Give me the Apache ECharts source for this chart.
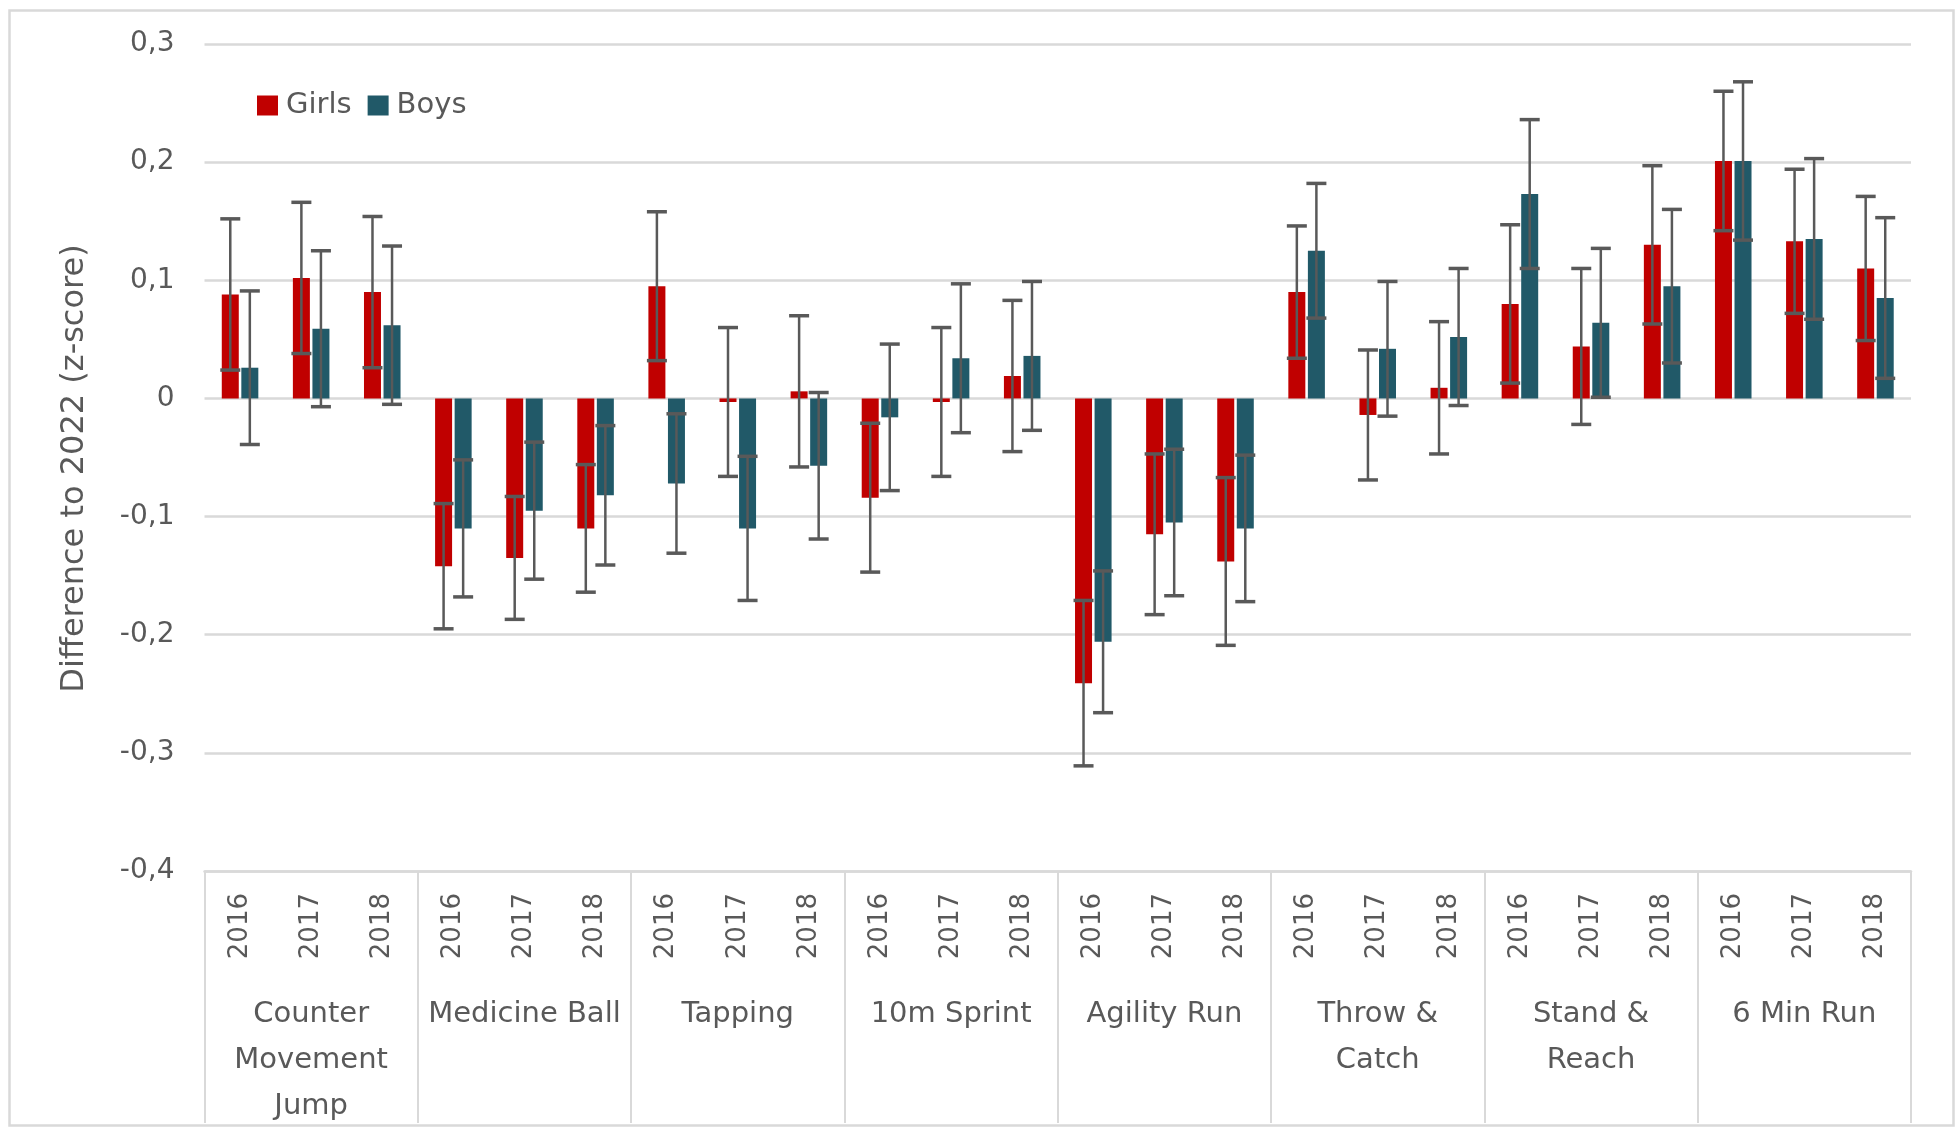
<!DOCTYPE html>
<html>
<head>
<meta charset="utf-8">
<script src="https://cdn.jsdelivr.net/npm/echarts@6/dist/echarts.min.js"></script>
<style>
html,body{margin:0;padding:0;background:#fff;}
#chart{width:1959px;height:1133px;}
</style>
</head>
<body>
<div id="chart"></div>
<script>
// ---- data ----
const groups = ['Counter\nMovement\nJump','Medicine Ball','Tapping','10m Sprint','Agility Run','Throw &\nCatch','Stand &\nReach','6 Min Run'];
const years = ['2016','2017','2018'];
const yTicks = {min: -0.4, max: 0.3, interval: 0.1};

const girls = [0.088, 0.102, 0.090,  -0.142, -0.135, -0.110,  0.095, -0.003, 0.006,  -0.084, -0.003, 0.019,
               -0.241, -0.115, -0.138,  0.090, -0.014, 0.009,  0.080, 0.044, 0.130,  0.201, 0.133, 0.110];
const girlsErr = [0.064, 0.064, 0.064,  0.053, 0.052, 0.054,  0.063, 0.063, 0.064,  0.063, 0.063, 0.064,
                  0.070, 0.068, 0.071,  0.056, 0.055, 0.056,  0.067, 0.066, 0.067,  0.059, 0.061, 0.061];
const boys = [0.026, 0.059, 0.062,  -0.110, -0.095, -0.082,  -0.072, -0.110, -0.057,  -0.016, 0.034, 0.036,
              -0.206, -0.105, -0.110,  0.125, 0.042, 0.052,  0.173, 0.064, 0.095,  0.201, 0.135, 0.085];
const boysErr = [0.065, 0.066, 0.067,  0.058, 0.058, 0.059,  0.059, 0.061, 0.062,  0.062, 0.063, 0.063,
                 0.060, 0.062, 0.062,  0.057, 0.057, 0.058,  0.063, 0.063, 0.065,  0.067, 0.068, 0.068];

// ---- build ----
const categories = [];
groups.forEach((g, gi) => years.forEach(y => categories.push(gi + '|' + y)));

const FONT = "'DejaVu Sans', sans-serif";
const TXT = '#595959';
const GRIDC = '#d9d9d9';
const BAR_W = 17;
const BAR_GAP = 0.15;
const OFFSET = (BAR_W + BAR_W * BAR_GAP) / 2;

function errSeries(name, vals, errs, dir) {
  return {
    name: name,
    type: 'custom',
    xAxisIndex: 0,
    z: 10,
    silent: true,
    data: vals.map((v, i) => [i, v - errs[i], v + errs[i]]),
    encode: {x: 0, y: [1, 2]},
    renderItem: function (params, api) {
      const i = api.value(0);
      const lo = api.coord([i, api.value(1)]);
      const hi = api.coord([i, api.value(2)]);
      const x = lo[0] + dir * OFFSET;
      const cap = 10;
      const st = {stroke: '#595959', lineWidth: 2.5};
      const cst = {stroke: '#595959', lineWidth: 3.5};
      return {
        type: 'group',
        children: [
          {type: 'line', shape: {x1: x, y1: lo[1], x2: x, y2: hi[1]}, style: st},
          {type: 'line', shape: {x1: x - cap, y1: lo[1], x2: x + cap, y2: lo[1]}, style: cst},
          {type: 'line', shape: {x1: x - cap, y1: hi[1], x2: x + cap, y2: hi[1]}, style: cst}
        ]
      };
    }
  };
}

const chart = echarts.init(document.getElementById('chart'), null, {renderer: 'canvas'});
chart.setOption({
  animation: false,
  backgroundColor: '#fff',
  textStyle: {fontFamily: FONT},
  graphic: [{
    type: 'rect', left: 7, top: 8, z: -10,
    shape: {width: 1944, height: 1115},
    style: {fill: 'none', stroke: GRIDC, lineWidth: 2.5}
  }],
  legend: {
    data: ['Girls', 'Boys'],
    left: 252, top: 86,
    itemWidth: 21, itemHeight: 20, itemGap: 16,
    icon: 'rect',
    textStyle: {color: TXT, fontSize: 29, fontFamily: FONT, padding: [0, 0, 0, 3]}
  },
  grid: {left: 204.5, right: 48, top: 44, bottom: 262, containLabel: false},
  xAxis: [{
    type: 'category',
    data: categories,
    position: 'bottom',
    axisLine: {onZero: false, lineStyle: {color: GRIDC, width: 2.5}},
    axisTick: {show: false},
    axisLabel: {
      interval: 0, rotate: 90, margin: 22,
      color: TXT, fontSize: 26, fontFamily: FONT,
      formatter: v => v.split('|')[1]
    },
    splitLine: {show: false}
  }, {
    type: 'category',
    data: groups,
    position: 'bottom',
    axisLine: {show: false, onZero: false},
    axisTick: {show: true, interval: 0, length: 252, lineStyle: {color: GRIDC, width: 2}},
    axisLabel: {
      interval: 0, margin: 120,
      color: TXT, fontSize: 29, lineHeight: 46, fontFamily: FONT
    },
    splitLine: {show: false}
  }],
  yAxis: {
    type: 'value',
    min: yTicks.min, max: yTicks.max, interval: yTicks.interval,
    name: 'Difference to 2022 (z-score)',
    nameLocation: 'middle', nameRotate: 90, nameGap: 114,
    nameTextStyle: {color: TXT, fontSize: 32, fontFamily: FONT, padding: [0, 22, 0, 0]},
    axisLine: {show: false},
    axisTick: {show: false},
    axisLabel: {
      margin: 30, color: TXT, fontSize: 28, fontFamily: FONT,
      formatter: v => Math.abs(v) < 1e-9 ? '0' : v.toFixed(1).replace('.', ',')
    },
    splitLine: {lineStyle: {color: GRIDC, width: 2.5}}
  },
  series: [
    {name: 'Girls', type: 'bar', data: girls, barWidth: BAR_W, barGap: (BAR_GAP * 100) + '%',
     itemStyle: {color: '#c00000'}, xAxisIndex: 0},
    {name: 'Boys', type: 'bar', data: boys, barWidth: BAR_W, barGap: (BAR_GAP * 100) + '%',
     itemStyle: {color: '#215968'}, xAxisIndex: 0},
    errSeries('Girls CI', girls, girlsErr, -1),
    errSeries('Boys CI', boys, boysErr, 1)
  ]
});
</script>
</body>
</html>
